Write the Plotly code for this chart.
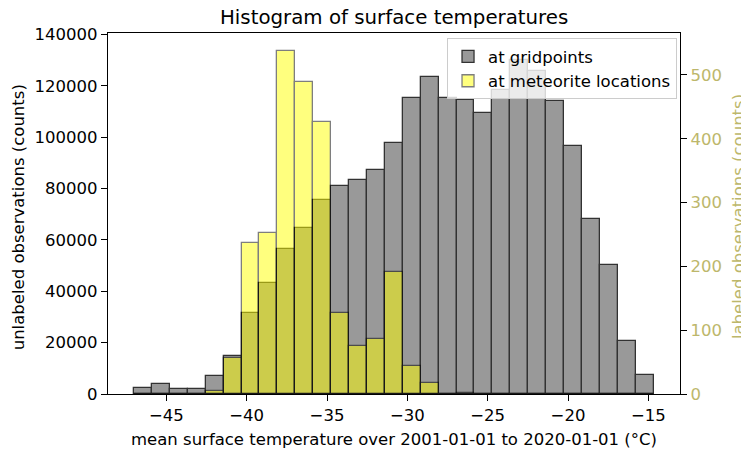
import numpy as np
import plotly.graph_objects as go

# Histogram binning of mean surface temperature (°C)
bin_lo = -47.01
bin_hi = -14.67
n_bins = 29

# Counts per bin: all grid points (left axis) and meteorite find locations (right axis)
gridpoint_counts = [
    2400, 3780, 2070, 1830, 7000, 14940, 31560, 43250, 56500, 64550,
    75460, 81040, 83250, 87150, 97900, 115300, 123250, 115400, 114500, 109450,
    118450, 130200, 125700, 114000, 96630, 68190, 50130, 20780, 7270,
]
meteorite_counts = [
    0, 0, 0, 0, 5, 56, 236, 252, 538, 489,
    426, 127, 75, 86, 192, 44, 17, 0, 1, 0,
    0, 0, 0, 0, 0, 0, 0, 0, 0,
]

x_ticks = [-45, -40, -35, -30, -25, -20, -15]
y_ticks = [0, 20000, 40000, 60000, 80000, 100000, 120000, 140000]
y2_ticks = [0, 100, 200, 300, 400, 500]

edges = np.linspace(bin_lo, bin_hi, n_bins + 1)
centers = (edges[:-1] + edges[1:]) / 2
width = edges[1] - edges[0]

FONT = "DejaVu Sans"
FS = 16.5
KHAKI = "#bdb76b"

fig = go.Figure()
fig.add_trace(go.Bar(
    x=centers, y=gridpoint_counts, width=width,
    name="at gridpoints",
    marker=dict(color="rgb(128,128,128)", line=dict(color="black", width=1.3)),
    opacity=0.8, yaxis="y",
))
fig.add_trace(go.Bar(
    x=centers, y=meteorite_counts, width=width,
    name="at meteorite locations",
    marker=dict(color="yellow", line=dict(color="black", width=1.3)),
    opacity=0.5, yaxis="y2",
))

axis_common = dict(
    showline=True, linecolor="black", linewidth=1.3,
    ticks="outside", ticklen=6, tickwidth=1.3, tickcolor="black",
    showgrid=False, zeroline=False,
    tickfont=dict(family=FONT, size=FS, color="black"),
)

fig.update_layout(
    width=741, height=450,
    margin=dict(l=108, r=61, t=33, b=56),
    plot_bgcolor="white", paper_bgcolor="white",
    barmode="overlay", bargap=0,
    font=dict(family=FONT, size=FS, color="black"),
    xaxis=dict(
        **axis_common, range=[-48.63, -13.03], tickvals=x_ticks, mirror=True,
    ),
    yaxis=dict(
        **axis_common, range=[0, 140540], tickvals=y_ticks, tickformat="d",
    ),
    yaxis2=dict(
        **{**axis_common, "tickfont": dict(family=FONT, size=FS, color=KHAKI)},
        range=[0, 565.8], tickvals=y2_ticks, overlaying="y", side="right",
    ),
    legend=dict(
        x=0.9948, y=0.986, xanchor="right", yanchor="top",
        bgcolor="rgba(255,255,255,0.8)", bordercolor="#cccccc", borderwidth=1,
        font=dict(family=FONT, size=FS, color="black"),
        tracegroupgap=0, itemwidth=30,
    ),
    showlegend=True,
    annotations=[
        dict(text="Histogram of surface temperatures", xref="paper", yref="paper",
             x=0.5, y=1.043, xanchor="center", yanchor="middle", showarrow=False,
             font=dict(family=FONT, size=19.8, color="black")),
        dict(text="mean surface temperature over 2001-01-01 to 2020-01-01 (°C)",
             xref="paper", yref="paper", x=0.5, y=-0.127, xanchor="center",
             yanchor="middle", showarrow=False,
             font=dict(family=FONT, size=FS, color="black")),
        dict(text="unlabeled observations (counts)", xref="paper", yref="paper",
             x=-0.157, y=0.49, xanchor="center", yanchor="middle", textangle=-90,
             showarrow=False, font=dict(family=FONT, size=FS, color="black")),
        dict(text="labeled observations (counts)", xref="paper", yref="paper",
             x=1.1014, y=0.49, xanchor="center", yanchor="middle", textangle=-90,
             showarrow=False, font=dict(family=FONT, size=FS, color=KHAKI)),
    ],
)

fig.write_html("out.html")
